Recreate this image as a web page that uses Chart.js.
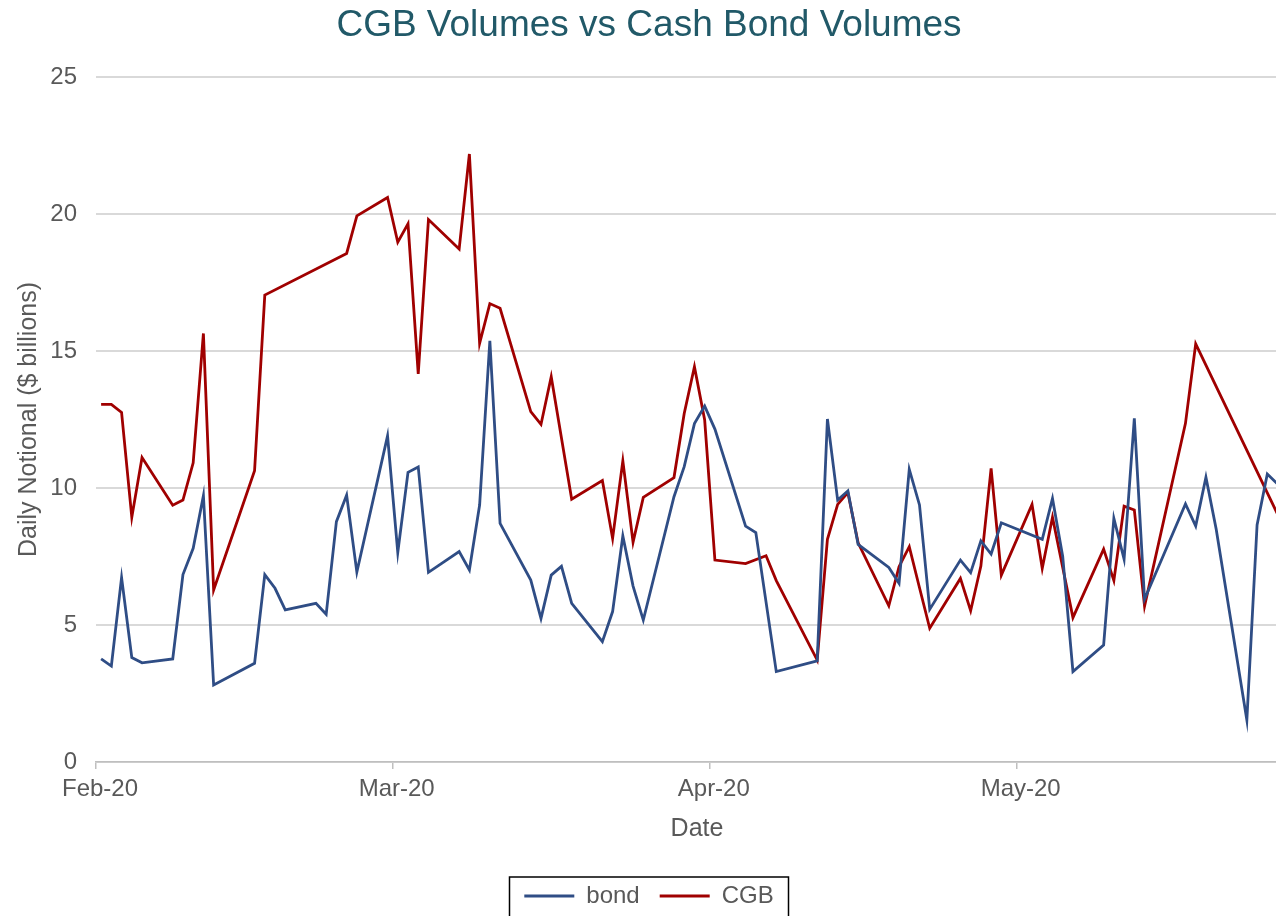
<!DOCTYPE html>
<html>
<head>
<meta charset="utf-8">
<title>CGB Volumes vs Cash Bond Volumes</title>
<script src="https://cdn.jsdelivr.net/npm/chart.js@4/dist/chart.umd.min.js"></script>
<style>
    html, body { margin: 0; padding: 0; background: #ffffff; }
    #frame { width: 1276px; height: 916px; overflow: hidden; position: relative; }
    #holder { width: 1298px; height: 916px; position: absolute; left: 0; top: 0; }
</style>
</head>
<body>
<div id="frame"><div id="holder"><canvas id="volumeChart"></canvas></div></div>
<script>
// trading days (Excel date axis, one slot per calendar day)
const tradeDates = [
    '2020-02-03', '2020-02-04', '2020-02-05', '2020-02-06', '2020-02-07',
    '2020-02-10', '2020-02-11', '2020-02-12', '2020-02-13', '2020-02-14',
    '2020-02-18', '2020-02-19', '2020-02-20', '2020-02-21',
    '2020-02-24', '2020-02-25', '2020-02-26', '2020-02-27', '2020-02-28',
    '2020-03-02', '2020-03-03', '2020-03-04', '2020-03-05', '2020-03-06',
    '2020-03-09', '2020-03-10', '2020-03-11', '2020-03-12', '2020-03-13',
    '2020-03-16', '2020-03-17', '2020-03-18', '2020-03-19', '2020-03-20',
    '2020-03-23', '2020-03-24', '2020-03-25', '2020-03-26', '2020-03-27',
    '2020-03-30', '2020-03-31', '2020-04-01', '2020-04-02', '2020-04-03',
    '2020-04-06', '2020-04-07', '2020-04-08', '2020-04-09',
    '2020-04-13', '2020-04-14', '2020-04-15', '2020-04-16', '2020-04-17',
    '2020-04-20', '2020-04-21', '2020-04-22', '2020-04-23', '2020-04-24',
    '2020-04-27', '2020-04-28', '2020-04-29', '2020-04-30', '2020-05-01',
    '2020-05-04', '2020-05-05', '2020-05-06', '2020-05-07', '2020-05-08',
    '2020-05-11', '2020-05-12', '2020-05-13', '2020-05-14', '2020-05-15',
    '2020-05-19', '2020-05-20', '2020-05-21', '2020-05-22',
    '2020-05-25', '2020-05-26', '2020-05-27', '2020-05-28'
];

const bondVolumes = [
    3.76, 3.50, 6.73, 3.81, 3.62,
    3.76, 6.84, 7.80, 9.72, 2.81,
    3.60, 6.84, 6.34, 5.55,
    5.79, 5.39, 8.77, 9.74, 6.93,
    11.90, 7.65, 10.57, 10.77, 6.92,
    7.68, 7.01, 9.38, 15.37, 8.71,
    6.64, 5.24, 6.82, 7.14, 5.79,
    4.39, 5.49, 8.25, 6.42, 5.18,
    9.68, 10.78, 12.35, 12.99, 12.15,
    8.61, 8.37, null, 3.30,
    3.69, 12.52, 9.56, 9.89, 7.94,
    7.10, 6.52, 10.68, 9.38, 5.57,
    7.37, 6.91, 8.07, 7.59, 8.73,
    null, 8.13, 9.62, 7.50, 3.30,
    4.27, 8.89, 7.40, 12.54, 5.94,
    9.42, 8.61, 10.39, 8.50,
    1.53, 8.65, 10.51, 10.15
];

const cgbVolumes = [
    13.05, 13.05, 12.76, 8.93, 11.11,
    9.37, 9.56, 10.92, 15.64, 6.28,
    10.63, 17.04, null, null,
    null, null, null, 18.56, 19.93,
    20.60, 18.97, 19.64, 14.16, 19.80,
    18.72, 22.19, 15.28, 16.73, 16.56,
    12.79, 12.32, 14.06, null, 9.59,
    10.27, 8.16, 10.99, 8.02, 9.66,
    10.38, 12.72, 14.43, 12.48, 7.37,
    7.24, null, 7.53, 6.62,
    3.72, 8.13, 9.40, 9.83, 8.00,
    5.70, 7.13, 7.86, 6.36, 4.88,
    6.70, 5.52, 7.15, 10.72, 6.82,
    9.40, 7.07, 8.93, null, 5.27,
    7.77, 6.62, 9.34, 9.20, 5.69,
    12.36, 15.26, null, null,
    null, null, null, 9.05
];

const monthTickDates = ['2020-02-03', '2020-03-03', '2020-04-03', '2020-05-03'];
const monthTickLabels = ['Feb-20', 'Mar-20', 'Apr-20', 'May-20'];

const yTicks = [0, 5, 10, 15, 20, 25];

var firstDay = Date.UTC(2020, 1, 3);

function dayIndex(dateText) {
    var parts = dateText.split('-');
    var t = Date.UTC(+parts[0], +parts[1] - 1, +parts[2]);
    return Math.round((t - firstDay) / 86400000);
}

function buildPoints(values) {
    var points = [];
    for (let i = 0; i < tradeDates.length; i++) {
        points.push({ x: dayIndex(tradeDates[i]), y: values[i] });
    }
    return points;
}

// each day sits in the middle of its slot, month ticks mark the slot edge
var monthTickValues = monthTickDates.map(function (d) { return dayIndex(d) - 0.5; });

var legendFrame = {
    id: 'legendFrame',
    afterDraw: function (chart) {
        var boxes = chart.legend.legendHitBoxes;
        if (!boxes || !boxes.length) return;
        var minLeft = Math.min.apply(null, boxes.map(function (b) { return b.left; }));
        var maxRight = Math.max.apply(null, boxes.map(function (b) { return b.left + b.width; }));
        var centreX = (minLeft + maxRight) / 2;
        var top = boxes[0].top;
        var ctx = chart.ctx;
        ctx.save();
        ctx.strokeStyle = '#000000';
        ctx.lineWidth = 1.5;
        ctx.strokeRect(centreX - 139.5, top - 7, 279, 60);
        ctx.restore();
    }
};

Chart.defaults.font.family = "'Liberation Sans', Arial, sans-serif";

var chartControl = document.getElementById('volumeChart');

var volumeChart = new Chart(chartControl, {
    type: 'line',
    data: {
        datasets: [
            {
                label: 'bond',
                data: buildPoints(bondVolumes),
                borderColor: '#2f4d85',
                backgroundColor: '#2f4d85',
                borderWidth: 2.8,
                pointRadius: 0,
                tension: 0,
                spanGaps: true
            },
            {
                label: 'CGB',
                data: buildPoints(cgbVolumes),
                borderColor: '#a00000',
                backgroundColor: '#a00000',
                borderWidth: 2.8,
                pointRadius: 0,
                tension: 0,
                spanGaps: true
            }
        ]
    },
    options: {
        animation: false,
        responsive: true,
        maintainAspectRatio: false,
        layout: {
            padding: { left: 0, right: 0, top: 0, bottom: -2 }
        },
        scales: {
            x: {
                type: 'linear',
                min: -0.5,
                max: 117,
                afterBuildTicks: function (scale) {
                    scale.ticks = monthTickValues.map(function (v) { return { value: v }; });
                },
                afterFit: function (scale) {
                    scale.height = 102;
                },
                ticks: {
                    autoSkip: false,
                    maxRotation: 0,
                    padding: 6,
                    labelOffset: 4,
                    color: '#595959',
                    font: { size: 24 },
                    callback: function (value) {
                        var i = monthTickValues.indexOf(value);
                        return i >= 0 ? monthTickLabels[i] : '';
                    }
                },
                grid: {
                    drawOnChartArea: false,
                    drawTicks: true,
                    tickLength: 7,
                    color: '#bfbfbf',
                    lineWidth: 1.5
                },
                border: {
                    display: true,
                    color: '#bfbfbf',
                    width: 1.5
                },
                title: {
                    display: true,
                    text: 'Date',
                    color: '#595959',
                    font: { size: 25 },
                    padding: { top: 0, bottom: 20 }
                }
            },
            y: {
                min: 0,
                max: 25,
                afterBuildTicks: function (scale) {
                    scale.ticks = yTicks.map(function (v) { return { value: v }; });
                },
                afterFit: function (scale) {
                    scale.width = 96;
                },
                ticks: {
                    padding: 19,
                    color: '#595959',
                    font: { size: 24 }
                },
                grid: {
                    color: '#d9d9d9',
                    lineWidth: 2,
                    drawTicks: false
                },
                border: {
                    display: false
                },
                title: {
                    display: true,
                    text: 'Daily Notional ($ billions)',
                    color: '#595959',
                    font: { size: 25 },
                    padding: { top: 14, bottom: 0 }
                }
            }
        },
        plugins: {
            title: {
                display: true,
                text: 'CGB Volumes vs Cash Bond Volumes',
                color: '#215968',
                font: { size: 37, weight: 'normal' },
                padding: { top: 4, bottom: 28.6 }
            },
            legend: {
                display: true,
                position: 'bottom',
                labels: {
                    boxWidth: 50,
                    boxHeight: 0,
                    padding: 20,
                    color: '#595959',
                    font: { size: 24 }
                }
            },
            tooltip: {
                enabled: false
            }
        }
    },
    plugins: [legendFrame]
});
</script>
</body>
</html>
